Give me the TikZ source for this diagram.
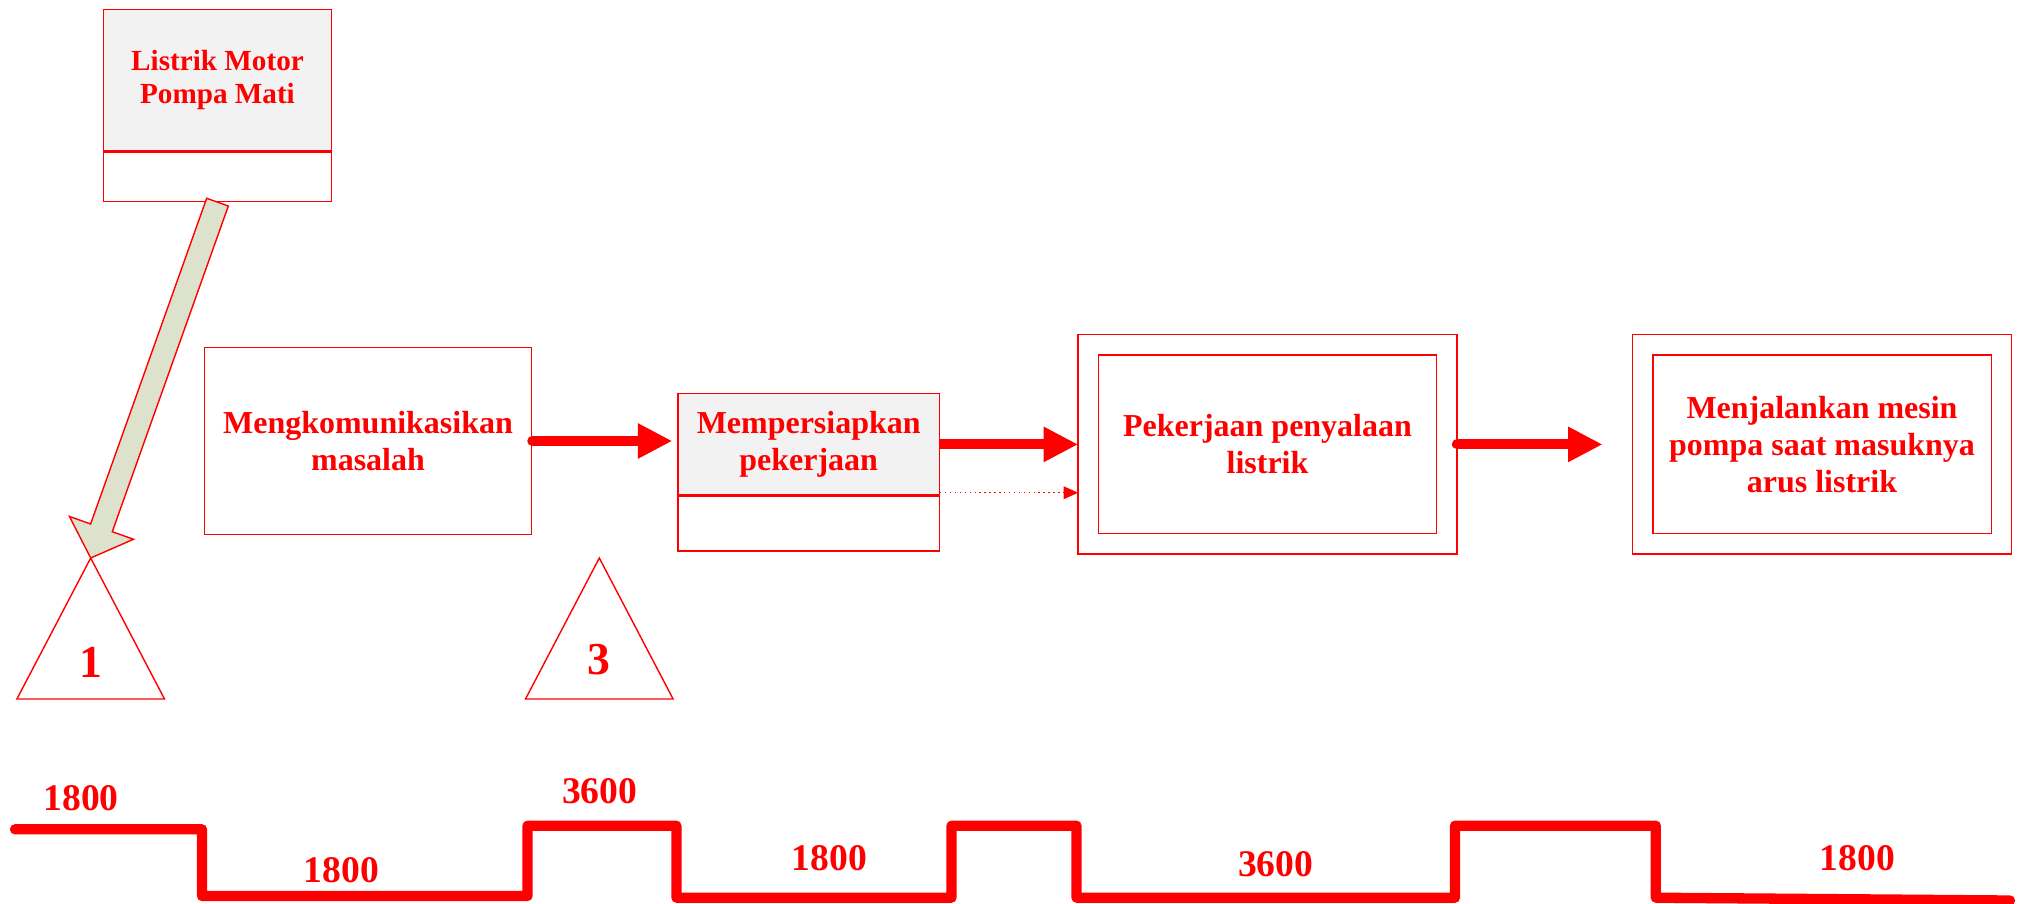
\documentclass[tikz,border=0pt]{standalone}
\usepackage{fontspec}
\setmainfont{Liberation Serif}
\usetikzlibrary{arrows.meta,calc,positioning}

\definecolor{boxgray}{HTML}{F2F2F2}
\definecolor{sage}{HTML}{DDE2CC}

\begin{document}
\begin{tikzpicture}[
  box/.style={rectangle, draw=red, line width=0.4pt, text=red, align=center, inner sep=0pt,
    font=\fontsize{9.1}{10.6}\selectfont\bfseries},
  topbox/.style={box, fill=boxgray},
  dbox/.style={box, double, double distance=0.19cm, outer sep=0.1cm},
  tri/.style={draw=red, line width=0.4pt},
  num/.style={text=red, inner sep=0pt, font=\fontsize{13}{15}\selectfont\bfseries},
  secs/.style={text=red, inner sep=0pt, font=\fontsize{10.7}{12}\selectfont\bfseries},
  arrow/.style={-{Triangle[length=0.345cm, width=0.33cm]}, red, line width=0.1cm},
  thin arrow/.style={-{Triangle[length=0.145cm, width=0.127cm]}, red, densely dotted, line width=0.4pt},
  bigarrow/.style={draw=red, fill=sage, line width=0.4pt},
  timeline/.style={red, line width=0.103cm, line cap=round, line join=round}
]
\useasboundingbox (0,0) rectangle (20.29,-9.04);

% Nodes
\node[topbox, minimum width=2.284cm, minimum height=1.415cm, font=\fontsize{8.3}{9.6}\selectfont\bfseries] (motor) at (2.175,-0.80) {Listrik Motor\\Pompa Mati};
\node[box, minimum width=2.284cm, minimum height=0.493cm, below=0pt of motor] (motorlow) {};
\node[box, minimum width=3.271cm, minimum height=1.87cm] (talk) at (3.68,-4.41) {Mengkomunikasikan\\masalah};
\node[topbox, minimum width=2.613cm, minimum height=1.017cm] (prep) at (8.087,-4.442) {Mempersiapkan\\pekerjaan};
\node[box, minimum width=2.613cm, minimum height=0.547cm, below=0pt of prep] (preplow) {};
\node[dbox, minimum width=3.588cm, minimum height=1.99cm] (wire) at (12.675,-4.444) {Pekerjaan penyalaan\\listrik};
\node[dbox, minimum width=3.588cm, minimum height=1.99cm] (run) at (18.22,-4.444) {Menjalankan mesin\\pompa saat masuknya\\arus listrik};

% Triangles
\coordinate (tri1) at (0.907,-5.58);
\coordinate (tri3) at (5.993,-5.58);
\draw[tri] (tri1) -- ++(0.738,-1.41) -- ++(-1.476,0) -- cycle;
\draw[tri] (tri3) -- ++(0.738,-1.41) -- ++(-1.476,0) -- cycle;
\node[num] (one) at ($(tri1)+(0,-1.04)$) {1};
\node[num] (three) at ($(tri3)+(0,-1.02)$) {3};

% Fat arrow down to the first triangle
\coordinate (fa0) at (motorlow.south);
\coordinate (fa1) at (tri1);
\coordinate (fah) at ($(fa1)!0.32cm!(fa0)$);
\filldraw[bigarrow] ($(fa0)!0.115cm!90:(fa1)$) -- ($(fah)!0.115cm!90:(fa1)$) -- ($(fah)!0.34cm!90:(fa1)$)
  -- (fa1) -- ($(fah)!0.34cm!-90:(fa1)$) -- ($(fah)!0.115cm!-90:(fa1)$) -- ($(fa0)!0.115cm!-90:(fa1)$) -- cycle;

% Arrows
\draw[arrow, line cap=round, shorten >=0.05cm] (talk.east) -- (talk.east -| prep.west);
\draw[arrow] (prep.east |- wire.west) -- (wire.west);
\draw[thin arrow] ([yshift=0.03cm]prep.south east) -- ([yshift=0.03cm]prep.south east -| wire.west);
\draw[arrow, line cap=round, shorten >=0.3cm] (wire.east) -- (run.west);

% Time line
\draw[timeline] (0.15,-8.293) -- (2.02,-8.293) -- (2.02,-8.96) -- (5.275,-8.96) -- (5.275,-8.257)
  -- (6.764,-8.257) -- (6.764,-8.977) -- (9.515,-8.977) -- (9.515,-8.257) -- (10.765,-8.257)
  -- (10.765,-8.977) -- (14.55,-8.977) -- (14.55,-8.257) -- (16.558,-8.257) -- (16.558,-8.977)
  -- (20.1,-9.005);
\node[secs] (s1) at (0.81,-7.98) {1800};
\node[secs] (s2) at (3.415,-8.70) {1800};
\node[secs] (s3) at (5.997,-7.91) {3600};
\node[secs] (s4) at (8.295,-8.58) {1800};
\node[secs] (s5) at (12.756,-8.637) {3600};
\node[secs] (s6) at (18.575,-8.58) {1800};

\end{tikzpicture}
\end{document}
